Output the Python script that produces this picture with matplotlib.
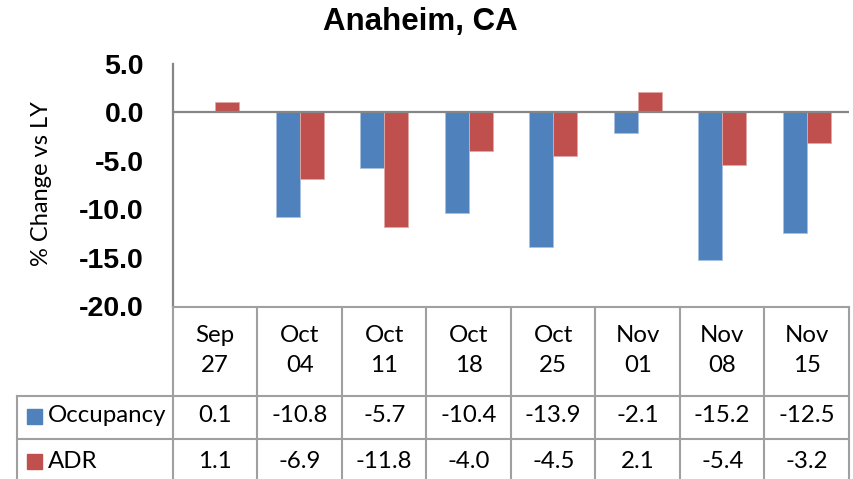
import matplotlib
matplotlib.use("Agg")
import matplotlib.pyplot as plt
from matplotlib.transforms import blended_transform_factory
from matplotlib.lines import Line2D
from matplotlib.patches import Rectangle

# ---------------- data ----------------
title = "Anaheim, CA"
ylabel = "% Change vs LY"
cat_month = ["Sep", "Oct", "Oct", "Oct", "Oct", "Nov", "Nov", "Nov"]
cat_day = ["27", "04", "11", "18", "25", "01", "08", "15"]
series_names = ["Occupancy", "ADR"]
occupancy = [0.1, -10.8, -5.7, -10.4, -13.9, -2.1, -15.2, -12.5]
adr = [1.1, -6.9, -11.8, -4.0, -4.5, 2.1, -5.4, -3.2]
yticks = [5.0, 0.0, -5.0, -10.0, -15.0, -20.0]

# ---------------- style ----------------
BLUE = "#4F81BD"
RED = "#C0504D"
AXIS_GRAY = "#868686"
GRID_GRAY = "#A0A0A0"
TABLE_FONT = "Lato"
BOLD_FONT = "Liberation Sans"

W, H = 854, 479
fig = plt.figure(figsize=(W / 100, H / 100), dpi=100)


def fx(p):
    return p / W


def fy(p):
    return 1 - p / H


ax = fig.add_axes([fx(173), fy(306), fx(849) - fx(173), fy(64) - fy(306)])
n = len(cat_month)
xs = list(range(n))
bw = 0.284
ax.bar([x - bw / 2 for x in xs], occupancy, width=bw, color=BLUE,
       edgecolor="#A9C1E0", linewidth=0.6, zorder=2)
ax.bar([x + bw / 2 for x in xs], adr, width=bw, color=RED,
       edgecolor="#E0A9A7", linewidth=0.6, zorder=2)
ax.set_xlim(-0.5, n - 0.5)
ax.set_ylim(-20, 5)
ax.axhline(0, color=AXIS_GRAY, lw=1.6, zorder=3)
for s in ["top", "right", "bottom"]:
    ax.spines[s].set_visible(False)
ax.spines["left"].set_color(AXIS_GRAY)
ax.spines["left"].set_linewidth(1.6)
ax.set_xticks([])
ax.set_yticks(yticks)
ax.set_yticklabels([f"{v:.1f}" for v in yticks], fontfamily=BOLD_FONT,
                   fontweight="bold", fontsize=20.5)
ax.tick_params(axis="y", length=0, pad=21)

fig.text(fx(420), fy(22), title, ha="center", va="center",
         fontfamily=BOLD_FONT, fontweight="bold", fontsize=22.5)
fig.text(fx(42), fy(184), ylabel, ha="center", va="center", rotation=90,
         fontfamily=TABLE_FONT, fontsize=17)

# ---------------- data table ----------------
bt = blended_transform_factory(ax.transData, fig.transFigure)
y_top, y_r1, y_r2, y_bot = 307, 396, 439, 479
lw = 1.5
TFS = 17.3


def hline(x0, x1, ypix, trans):
    fig.add_artist(Line2D([x0, x1], [fy(ypix), fy(ypix)], transform=trans,
                          color=GRID_GRAY, lw=lw))


def vline(x, y0, y1, trans):
    fig.add_artist(Line2D([x, x], [fy(y0), fy(y1)], transform=trans,
                          color=GRID_GRAY, lw=lw))


hline(-0.5, n - 0.5, y_top, bt)
hline(fx(17), fx(849), y_r1, fig.transFigure)
hline(fx(17), fx(849), y_r2, fig.transFigure)
for i in range(n + 1):
    vline(i - 0.5, y_top, y_bot, bt)
vline(fx(17), y_r1, y_bot, fig.transFigure)

for i in range(n):
    fig.text(i, fy(336), cat_month[i], transform=bt, ha="center", va="center",
             fontfamily=TABLE_FONT, fontsize=TFS)
    fig.text(i, fy(366), cat_day[i], transform=bt, ha="center", va="center",
             fontfamily=TABLE_FONT, fontsize=TFS)
    fig.text(i, fy(416), f"{occupancy[i]:.1f}", transform=bt, ha="center",
             va="center", fontfamily=TABLE_FONT, fontsize=TFS)
    fig.text(i, fy(461), f"{adr[i]:.1f}", transform=bt, ha="center",
             va="center", fontfamily=TABLE_FONT, fontsize=TFS)

for name, color, yc in [(series_names[0], BLUE, 416), (series_names[1], RED, 461)]:
    fig.add_artist(Rectangle((fx(27), fy(yc + 7.5)), fx(15), 15 / H,
                             transform=fig.transFigure, color=color))
    fig.text(fx(48), fy(yc), name, ha="left", va="center",
             fontfamily=TABLE_FONT, fontsize=TFS)

fig.savefig("out.png", dpi=100)
